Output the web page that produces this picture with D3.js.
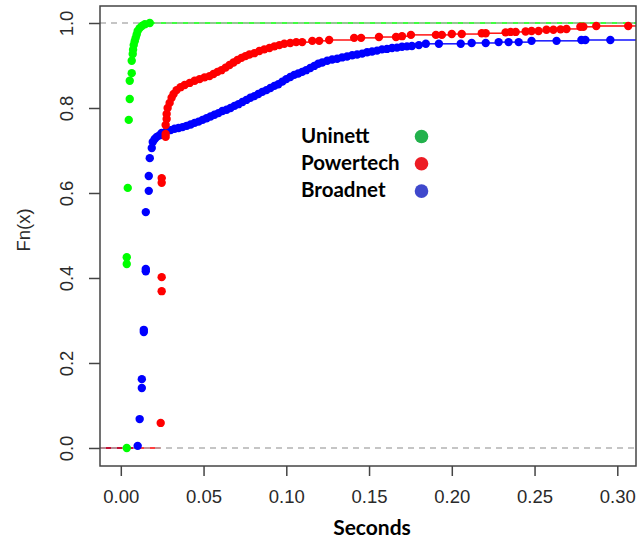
<!DOCTYPE html>
<html lang="en">
<head>
  <meta charset="UTF-8">
  <title>ECDF of delays</title>
  <script src="https://d3js.org/d3.v7.min.js"></script>
  <style>
    body { margin: 0; background: #fff; }
    svg { display: block; }
    .tick-label { font-family: "Liberation Sans", Arial, sans-serif; font-size: 18.5px; fill: #2a2a2a; }
    .axis-title { font-family: "Liberation Sans", Arial, sans-serif; font-size: 18.5px; fill: #2a2a2a; }
    .bold-title { font-family: Lato, "Open Sans", sans-serif; font-weight: 700; font-size: 21px; fill: #000; }
    .legend-text { font-family: Lato, "Open Sans", sans-serif; font-weight: 700; font-size: 20.5px; fill: #000; }
  </style>
</head>
<body>
  <svg id="chart" width="643" height="539"></svg>

  <script>
    // ECDF values: seconds and Fn(x)
    const uninettX = [0.0036, 0.0036, 0.0036, 0.0042, 0.0048, 0.0054, 0.0054, 0.0066, 0.0066, 0.0072,
      0.0074, 0.0078, 0.0084, 0.0090, 0.0096, 0.0102, 0.0114, 0.0127, 0.0145, 0.0175];
    const uninettF = [0.000, 0.433, 0.449, 0.612, 0.772, 0.821, 0.864, 0.882, 0.911, 0.927,
      0.937, 0.948, 0.957, 0.965, 0.973, 0.981, 0.988, 0.993, 0.997, 1.000];

    const broadnetX = [0.0102, 0.0114, 0.0127, 0.0127, 0.0139, 0.0139, 0.0151, 0.0151, 0.0151, 0.0169,
      0.0169, 0.0175, 0.0187, 0.0193, 0.0205, 0.0217, 0.0235, 0.0247,
      0.0277, 0.0301, 0.0325, 0.0349, 0.0373, 0.0398, 0.0422, 0.0446, 0.0470, 0.0494,
      0.0518, 0.0542, 0.0566, 0.0590, 0.0614, 0.0639, 0.0663, 0.0687, 0.0711, 0.0735,
      0.0759, 0.0783, 0.0807, 0.0831, 0.0855, 0.0880, 0.0904, 0.0928, 0.0952, 0.0976,
      0.1000, 0.1024, 0.1048, 0.1072, 0.1096, 0.1120, 0.1145, 0.1169, 0.1193, 0.1217,
      0.1247, 0.1277, 0.1307, 0.1337, 0.1367, 0.1398, 0.1428, 0.1458, 0.1488, 0.1518,
      0.1548, 0.1578, 0.1608, 0.1639, 0.1669, 0.1699, 0.1729, 0.1759, 0.1801, 0.1843,
      0.1922, 0.2054, 0.2120, 0.2205, 0.2283, 0.2343, 0.2404, 0.2482, 0.2633, 0.2783,
      0.2807, 0.2958];
    const broadnetF = [0.005, 0.068, 0.141, 0.162, 0.273, 0.278, 0.416, 0.421, 0.555, 0.605,
      0.640, 0.682, 0.706, 0.720, 0.727, 0.732, 0.736, 0.741,
      0.746, 0.748, 0.751, 0.753, 0.755, 0.758, 0.761, 0.765, 0.768, 0.772,
      0.776, 0.780, 0.784, 0.788, 0.793, 0.796, 0.800, 0.805, 0.809, 0.814,
      0.819, 0.824, 0.828, 0.833, 0.838, 0.842, 0.847, 0.852, 0.856, 0.862,
      0.868, 0.873, 0.878, 0.881, 0.885, 0.889, 0.894, 0.899, 0.904, 0.907,
      0.911, 0.914, 0.916, 0.919, 0.921, 0.924, 0.926, 0.928, 0.931, 0.933,
      0.935, 0.938, 0.939, 0.941, 0.942, 0.944, 0.945, 0.946, 0.948, 0.951,
      0.951, 0.951, 0.953, 0.953, 0.955, 0.955, 0.955, 0.958, 0.958, 0.960,
      0.960, 0.960];

    const powertechX = [0.0241, 0.0247, 0.0247, 0.0247, 0.0247, 0.0271, 0.0271, 0.0271, 0.0277, 0.0277,
      0.0283, 0.0295, 0.0307, 0.0319, 0.0337, 0.0361, 0.0386, 0.0416, 0.0446, 0.0476,
      0.0506, 0.0536, 0.0560, 0.0584, 0.0608, 0.0633, 0.0657, 0.0681, 0.0705, 0.0729,
      0.0753, 0.0777, 0.0807, 0.0837, 0.0867, 0.0898, 0.0928, 0.0958, 0.0988, 0.1024,
      0.1060, 0.1096, 0.1157, 0.1199, 0.1259, 0.1410, 0.1452, 0.1560, 0.1663, 0.1699,
      0.1753, 0.1904, 0.1940, 0.2000, 0.2060, 0.2181, 0.2205, 0.2325, 0.2355, 0.2386,
      0.2446, 0.2482, 0.2524, 0.2572, 0.2614, 0.2657, 0.2693, 0.2777, 0.2795, 0.2873,
      0.3066];
    const powertechF = [0.059, 0.369, 0.402, 0.624, 0.635, 0.732, 0.739, 0.760, 0.774, 0.786,
      0.800, 0.812, 0.824, 0.833, 0.842, 0.849, 0.854, 0.859, 0.864, 0.868,
      0.872, 0.875, 0.880, 0.885, 0.889, 0.895, 0.901, 0.907, 0.913, 0.918,
      0.922, 0.926, 0.929, 0.934, 0.938, 0.941, 0.945, 0.948, 0.951, 0.953,
      0.955, 0.955, 0.958, 0.958, 0.960, 0.965, 0.965, 0.967, 0.967, 0.969,
      0.972, 0.972, 0.972, 0.974, 0.974, 0.976, 0.976, 0.978, 0.979, 0.979,
      0.980, 0.981, 0.981, 0.984, 0.984, 0.985, 0.986, 0.991, 0.991, 0.993,
      0.993];

    const xTicks = [0.00, 0.05, 0.10, 0.15, 0.20, 0.25, 0.30];
    const yTicks = [0.0, 0.2, 0.4, 0.6, 0.8, 1.0];
    const legendNames = ['Uninett', 'Powertech', 'Broadnet'];
    const legendColors = ['#22b14c', '#ed1c24', '#3f48cc'];

    // draw order matters: red ends up on top
    const series = [
      { xs: uninettX, fs: uninettF, color: '#00ff00' },
      { xs: broadnetX, fs: broadnetF, color: '#0000ff' },
      { xs: powertechX, fs: powertechF, color: '#ff0000' }
    ];

    const box = { left: 100, right: 636, top: 6, bottom: 466 };
    const svg = d3.select('#chart');
    svg.append('rect').attr('width', 643).attr('height', 539).attr('fill', '#fff');

    const x = d3.scaleLinear().domain([-0.01257, 0.3113]).range([box.left, box.right]);
    const y = d3.scaleLinear().domain([-0.0424, 1.04]).range([box.bottom, box.top]);

    // step segments
    series.forEach(s => {
      const segs = [{ x1: x.domain()[0], x2: s.xs[0], f: 0 }];
      s.xs.forEach((v, i) => {
        const next = i < s.xs.length - 1 ? s.xs[i + 1] : x.domain()[1];
        segs.push({ x1: v, x2: next, f: s.fs[i] });
      });
      svg.append('g').selectAll('line').data(segs).join('line')
        .attr('x1', d => x(d.x1)).attr('x2', d => x(d.x2))
        .attr('y1', d => y(d.f)).attr('y2', d => y(d.f))
        .attr('stroke', s.color).attr('stroke-width', 1.4);
    });

    // gray dashed reference lines at 0 and 1
    svg.append('g').selectAll('line').data([0, 1]).join('line')
      .attr('x1', box.left).attr('x2', box.right)
      .attr('y1', d => y(d)).attr('y2', d => y(d))
      .attr('stroke', '#b3b3b3').attr('stroke-width', 1.3)
      .attr('stroke-dasharray', '6,5');

    series.forEach(s => {
      svg.append('g').selectAll('circle').data(s.xs).join('circle')
        .attr('cx', d => x(d))
        .attr('cy', (d, i) => y(s.fs[i]))
        .attr('r', 4.2)
        .attr('fill', s.color);
    });

    // box
    svg.append('rect')
      .attr('x', box.left).attr('y', box.top)
      .attr('width', box.right - box.left).attr('height', box.bottom - box.top)
      .attr('fill', 'none').attr('stroke', '#444').attr('stroke-width', 1.5);

    // x axis
    const xAxis = svg.append('g')
      .attr('transform', `translate(0,${box.bottom})`)
      .call(d3.axisBottom(x).tickValues(xTicks).tickSize(10).tickPadding(14).tickFormat(d3.format('.2f')));
    xAxis.select('.domain').remove();
    xAxis.selectAll('.tick line').attr('stroke', '#444').attr('stroke-width', 1.5);
    xAxis.selectAll('.tick text').attr('class', 'tick-label').attr('font-size', null).attr('font-family', null);

    // y axis, labels parallel to the axis as in R
    const yAxis = svg.append('g')
      .attr('transform', `translate(${box.left},0)`)
      .call(d3.axisLeft(y).tickValues(yTicks).tickSize(11).tickFormat(d3.format('.1f')));
    yAxis.select('.domain').remove();
    yAxis.selectAll('.tick line').attr('stroke', '#444').attr('stroke-width', 1.5);
    yAxis.selectAll('.tick text')
      .attr('class', 'tick-label').attr('font-size', null).attr('font-family', null)
      .attr('x', null).attr('dy', null)
      .attr('text-anchor', 'middle')
      .attr('transform', 'translate(-27,0) rotate(-90)')
      .attr('y', 0);

    svg.append('text').attr('class', 'axis-title')
      .attr('text-anchor', 'middle')
      .attr('transform', 'translate(30,230) rotate(-90)')
      .text('Fn(x)');

    svg.append('text').attr('class', 'bold-title')
      .attr('x', 372).attr('y', 535)
      .attr('text-anchor', 'middle')
      .text('Seconds');

    // legend
    const legend = svg.append('g');
    legendNames.forEach((name, i) => {
      legend.append('text').attr('class', 'legend-text')
        .attr('x', 301).attr('y', 142.5 + i * 27)
        .text(name);
      legend.append('circle')
        .attr('cx', 421.5).attr('cy', 136.5 + i * 27.3)
        .attr('r', 6.8)
        .attr('fill', legendColors[i]);
    });
  </script>
</body>
</html>
